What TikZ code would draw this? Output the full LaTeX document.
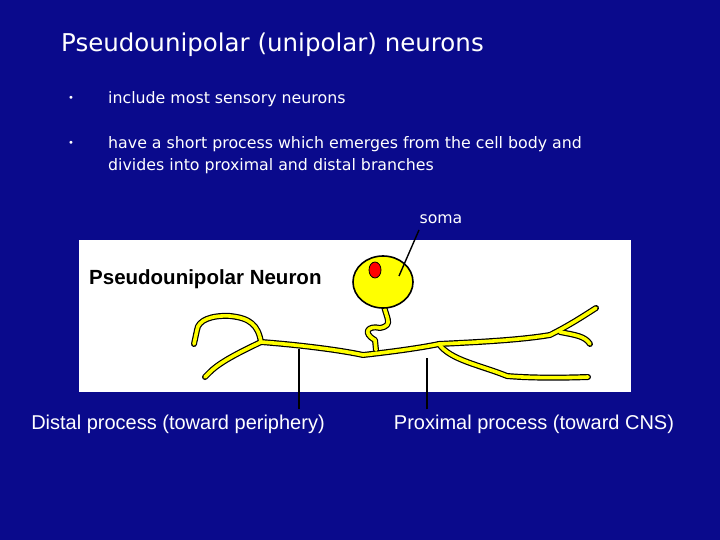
\documentclass[tikz,border=0pt]{standalone}
\usepackage{fontspec}
\usetikzlibrary{shapes.geometric}
\setmainfont{DejaVu Sans}
\newfontfamily\lab{Liberation Sans}
\definecolor{bg}{RGB}{10,10,140}
\definecolor{neu}{RGB}{255,255,0}
\tikzset{txt/.style={text=white,inner sep=0pt,anchor=west},
 nerve/.style={draw=black,line width=6pt,line cap=round,line join=round},
 nervein/.style={draw=neu,line width=3.6pt,line cap=round,line join=round},
 ptr/.style={draw=black,line width=1.4pt}}
\begin{document}
\begin{tikzpicture}[x=1pt,y=-1pt]
\fill[bg] (0,0) rectangle (720,540);
\useasboundingbox (0,0) rectangle (720,540);
\node[txt,font=\fontsize{24.5}{28}\selectfont] (title) at (61,45) {Pseudounipolar (unipolar) neurons};
\node[txt,font=\fontsize{10}{10}\selectfont] (b1) at (68,99) {•};
\node[txt,font=\fontsize{15.8}{19}\selectfont] (t1) at (108,99) {include most sensory neurons};
\node[txt,font=\fontsize{10}{10}\selectfont] (b2) at (68,144) {•};
\node[txt,font=\fontsize{15.8}{22}\selectfont,align=left,anchor=north west] (t2) at (108,136) {have a short process which emerges from the cell body and\\divides into proximal and distal branches};
\node[txt,anchor=center,font=\fontsize{15.7}{18}\selectfont] (soma) at (441,219) {soma};
\node[fill=white,minimum width=552pt,minimum height=152pt,inner sep=0pt,anchor=north west] (img) at (79,240) {};
\node[anchor=west,inner sep=0pt,font=\lab\bfseries\fontsize{20.5}{24}\selectfont] (nl) at (89,279) {Pseudounipolar Neuron};
% neuron
\foreach \s in {nerve,nervein}{
\draw[\s] (261,342) .. controls (300,345) and (340,350) .. (363,355) .. controls (390,352) and (420,348) .. (439,344);
\draw[\s] (261,342) .. controls (258,325) and (250,318) .. (230,316) .. controls (212,315) and (198,320) .. (197,330) -- (194,344);
\draw[\s] (261,342) .. controls (240,352) and (220,362) .. (210,372) -- (205,377);
\draw[\s] (439,344) .. controls (480,342) and (520,340) .. (550,335) .. controls (570,325) and (585,315) .. (596,308);
\draw[\s] (560,332) .. controls (575,335) and (585,336) .. (590,344);
\draw[\s] (439,344) .. controls (450,360) and (480,365) .. (507,376) .. controls (530,378) and (560,378) .. (588,377);
\draw[\s] (383,300) .. controls (385,318) and (395,325) .. (380,328) .. controls (368,325) and (362,333) .. (375,340) -- (376,350);
}
\node[ellipse,draw=black,line width=1.6pt,fill=neu,minimum width=60pt,minimum height=52pt,inner sep=0pt] (cell) at (383,282) {};
\fill[red,draw=black,line width=0.8pt] (375,270) ellipse (6pt and 8pt);
\coordinate (sp) at (419,230);
\draw[ptr] (sp) -- (399,276);
% labels
\node[txt,anchor=center,font=\lab\fontsize{20}{24}\selectfont] (dist) at (178,424) {Distal process (toward periphery)};
\node[txt,anchor=center,font=\lab\fontsize{20}{24}\selectfont] (prox) at (534,424) {Proximal process (toward CNS)};
\coordinate (da) at (299,349);
\coordinate (pa) at (427,358);
\draw[ptr] (299,409) -- (da);
\draw[ptr] (427,409) -- (pa);
\end{tikzpicture}
\end{document}
